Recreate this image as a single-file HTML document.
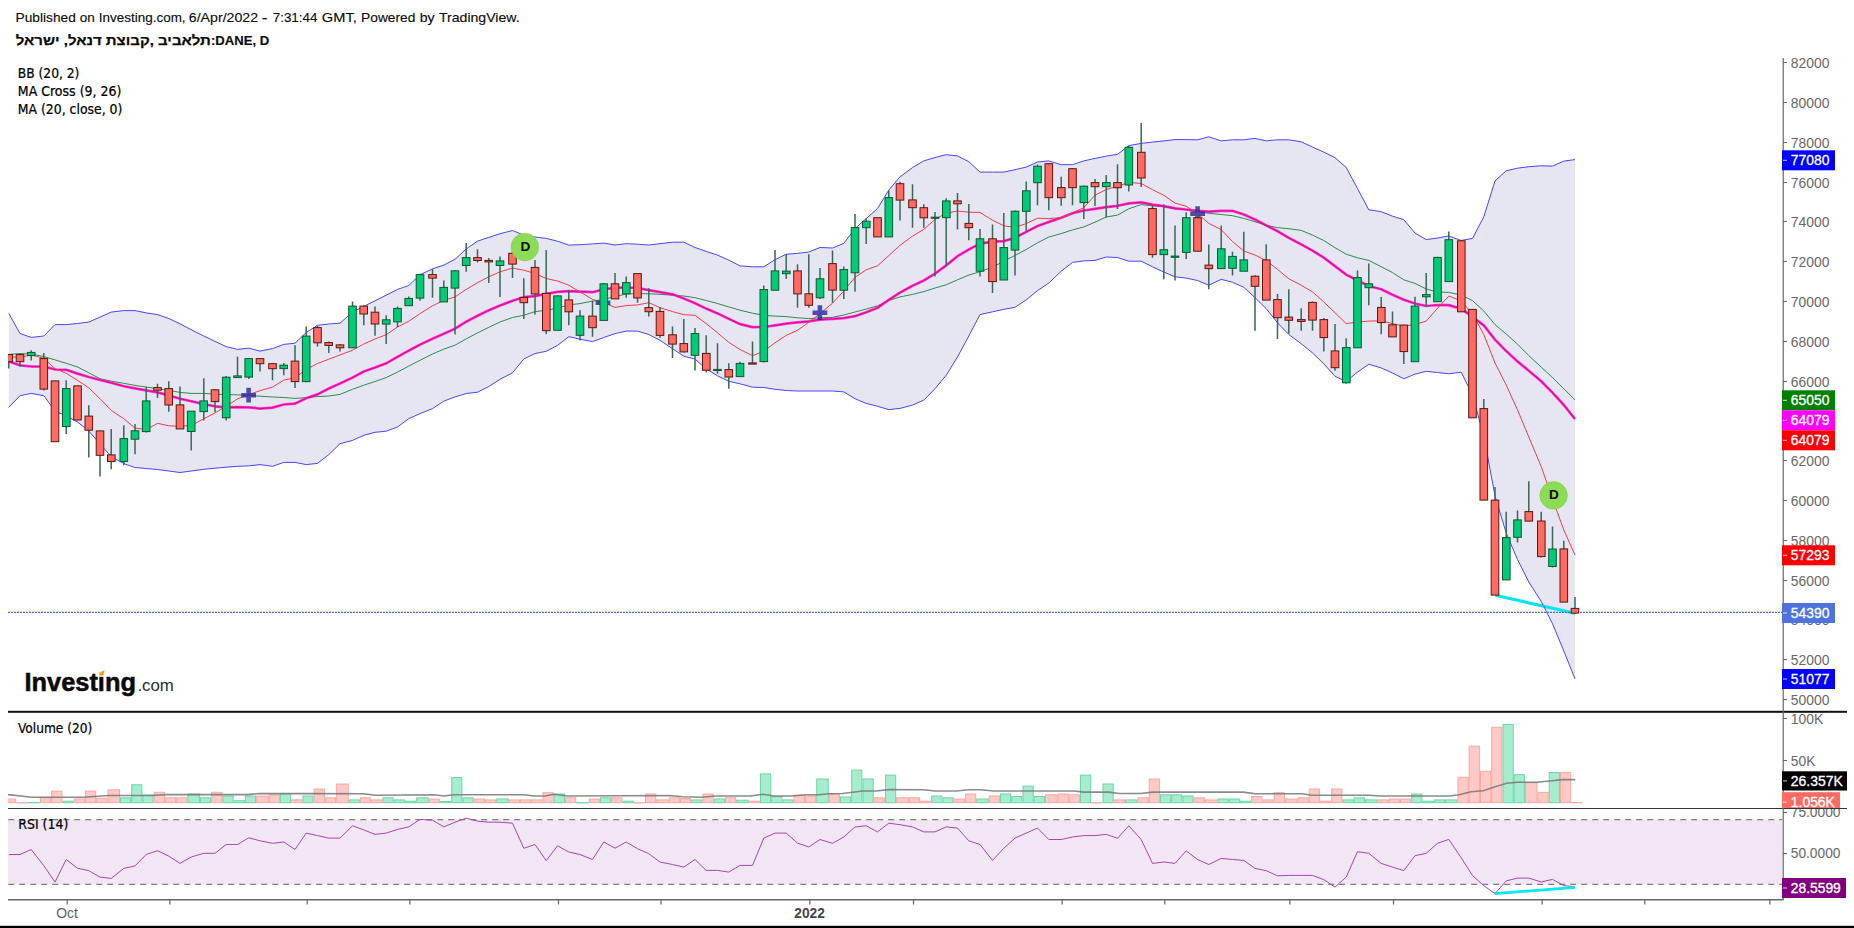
<!DOCTYPE html>
<html lang="he"><head><meta charset="utf-8"><title>DANE, D</title>
<style>html,body{margin:0;padding:0;background:#fff}body{width:1854px;height:928px;overflow:hidden}svg{display:block}</style>
</head><body>
<svg width="1854" height="928" viewBox="0 0 1854 928">
<defs><clipPath id="cm"><rect x="8" y="55" width="1775" height="656"/></clipPath><clipPath id="cv"><rect x="8" y="713" width="1775" height="95"/></clipPath><clipPath id="cr"><rect x="8" y="809" width="1775" height="90"/></clipPath><clipPath id="ca"><rect x="1783" y="809" width="71" height="91"/></clipPath></defs>
<rect width="1854" height="928" fill="#fff"/>
<g clip-path="url(#cm)">
<polygon fill="#e6e6f3" points="8.8,313.4 20,333.5 31.2,337.4 43.8,336 55,324.6 66.2,324.6 77.5,323.5 88.8,322.1 100,317.1 111.2,312.1 123.8,310.6 135,310.6 146.2,312.9 157.5,314.6 168.8,318.5 180,323.8 191.2,329.7 203.8,336 215,341.4 226.2,346.6 237.5,349.4 248.8,348.2 260,351.1 272.5,348.6 283.8,344.4 295,343.2 306.2,332.5 317.5,325.3 328.8,324 340,323.2 352.5,312 363.8,306.4 375,300.8 386.2,295.2 397.5,289.4 408.8,285.5 420,274.8 432.5,268.8 443.8,265.1 455,259.3 466.2,248.9 477.5,241.2 488.8,237.4 500,233.7 512.5,230.5 523.8,235.2 535,237 546.2,238.4 557.5,241.2 568.8,245.1 580,244.7 592.5,243.9 603.8,243.1 615,245 626.2,243.7 637.5,244.2 648.8,245 660,243.7 672.5,242.2 683.8,242.2 695,247.5 706.2,251.4 717.5,255.1 728.8,260.1 740,265.9 752.5,266.8 763.8,266.8 775,259.7 786.2,254.2 797.5,253.4 808.8,252 820,247.5 832.5,248 843.8,243.3 855,228.6 866.2,218.6 877.5,208.5 888.8,190.1 900,176.8 912.5,167.6 923.8,160.9 935,157.5 946.2,154.7 957.5,155.9 968.8,161.7 980,172.1 992.5,172.1 1003.8,172.1 1015,169.7 1026.2,167.1 1037.5,162 1048.8,160.9 1061.2,164.7 1072.5,164.7 1083.8,160.9 1095,158.4 1106.2,156.1 1117.5,154.4 1128.8,145.6 1141.2,143.4 1152.5,142.1 1163.8,140.9 1175,139.6 1186.2,139.6 1197.5,139.8 1208.8,136.8 1221.2,140.9 1232.5,139.8 1243.8,139.8 1255,138.4 1266.2,140.9 1277.5,139.8 1288.8,139.8 1301.2,141.8 1312.5,147.1 1323.8,152.1 1335,157.7 1346.2,167.4 1357.5,188.6 1368.8,209.8 1381.2,211.7 1392.5,216.2 1403.8,219.7 1415,233 1426.2,239.6 1437.5,238 1448.8,236 1461.2,240.5 1472.5,238.4 1483.8,216.8 1495,180.9 1506.2,170.8 1517.5,168.2 1528.8,166.7 1541.2,165.8 1552.5,166.1 1563.8,161.1 1575,159.6 1575,678.8 1563.8,651 1552.5,623.7 1541.2,601.4 1528.8,582 1517.5,559.5 1506.2,533 1495,496 1483.8,436 1472.5,395 1461.2,372.2 1448.8,373.8 1437.5,372.5 1426.2,371.3 1415,374.1 1403.8,378.8 1392.5,373 1381.2,367.9 1368.8,364.3 1357.5,372.1 1346.2,381.5 1335,376.3 1323.8,363.8 1312.5,352.9 1301.2,343.7 1288.8,334.5 1277.5,322.8 1266.2,308.6 1255,297.7 1243.8,287.3 1232.5,282.3 1221.2,279.3 1208.8,285.2 1197.5,280.5 1186.2,278.1 1175,276.8 1163.8,272.1 1152.5,266.8 1141.2,261.2 1128.8,261.2 1117.5,257.5 1106.2,257 1095,260.4 1083.8,260.9 1072.5,262.4 1061.2,271.2 1048.8,283.1 1037.5,290.6 1026.2,299.9 1015,307.3 1003.8,309.3 992.5,311.8 980,314.6 968.8,336 957.5,356.9 946.2,375.3 935,388.7 923.8,400.1 912.5,405.1 900,408.4 888.8,409.6 877.5,406.3 866.2,403.4 855,398.7 843.8,391.9 832.5,391 820,391 808.8,391 797.5,391 786.2,390.5 775,389.3 763.8,387.5 752.5,387.2 740,383.8 728.8,381.3 717.5,375.8 706.2,368.8 695,359.1 683.8,356.2 672.5,348.7 660,340.3 648.8,334.5 637.5,331.1 626.2,331.1 615,333.6 603.8,337.5 592.5,341.6 580,339.2 568.8,336.7 557.5,345.4 546.2,351.3 535,353.5 523.8,359 512.5,372.8 500,379.3 488.8,386.5 477.5,392.2 466.2,393.5 455,396.9 443.8,401.1 432.5,408.6 420,413.6 408.8,418.6 397.5,427 386.2,431.2 375,432.3 363.8,435.3 352.5,440.4 340,443.7 328.8,454.6 317.5,463.4 306.2,464.6 295,462.4 283.8,462.4 272.5,466.3 260,464.6 248.8,465.9 237.5,466.3 226.2,467.2 215,468.2 203.8,469.3 191.2,471 180,472.5 168.8,471 157.5,469.5 146.2,468.5 135,467.5 123.8,463.6 111.2,456.5 100,444 88.8,431 77.5,422 66.2,416 55,411 43.8,395.7 31.2,393.4 20,395.7 8.8,407.4"/>
<line x1="1495.4" y1="595.3" x2="1575" y2="613.3" stroke="#00e8f2" stroke-width="3.2"/>
<polyline fill="none" stroke="#4646ff" stroke-width="1" points="8.8,313.4 20,333.5 31.2,337.4 43.8,336 55,324.6 66.2,324.6 77.5,323.5 88.8,322.1 100,317.1 111.2,312.1 123.8,310.6 135,310.6 146.2,312.9 157.5,314.6 168.8,318.5 180,323.8 191.2,329.7 203.8,336 215,341.4 226.2,346.6 237.5,349.4 248.8,348.2 260,351.1 272.5,348.6 283.8,344.4 295,343.2 306.2,332.5 317.5,325.3 328.8,324 340,323.2 352.5,312 363.8,306.4 375,300.8 386.2,295.2 397.5,289.4 408.8,285.5 420,274.8 432.5,268.8 443.8,265.1 455,259.3 466.2,248.9 477.5,241.2 488.8,237.4 500,233.7 512.5,230.5 523.8,235.2 535,237 546.2,238.4 557.5,241.2 568.8,245.1 580,244.7 592.5,243.9 603.8,243.1 615,245 626.2,243.7 637.5,244.2 648.8,245 660,243.7 672.5,242.2 683.8,242.2 695,247.5 706.2,251.4 717.5,255.1 728.8,260.1 740,265.9 752.5,266.8 763.8,266.8 775,259.7 786.2,254.2 797.5,253.4 808.8,252 820,247.5 832.5,248 843.8,243.3 855,228.6 866.2,218.6 877.5,208.5 888.8,190.1 900,176.8 912.5,167.6 923.8,160.9 935,157.5 946.2,154.7 957.5,155.9 968.8,161.7 980,172.1 992.5,172.1 1003.8,172.1 1015,169.7 1026.2,167.1 1037.5,162 1048.8,160.9 1061.2,164.7 1072.5,164.7 1083.8,160.9 1095,158.4 1106.2,156.1 1117.5,154.4 1128.8,145.6 1141.2,143.4 1152.5,142.1 1163.8,140.9 1175,139.6 1186.2,139.6 1197.5,139.8 1208.8,136.8 1221.2,140.9 1232.5,139.8 1243.8,139.8 1255,138.4 1266.2,140.9 1277.5,139.8 1288.8,139.8 1301.2,141.8 1312.5,147.1 1323.8,152.1 1335,157.7 1346.2,167.4 1357.5,188.6 1368.8,209.8 1381.2,211.7 1392.5,216.2 1403.8,219.7 1415,233 1426.2,239.6 1437.5,238 1448.8,236 1461.2,240.5 1472.5,238.4 1483.8,216.8 1495,180.9 1506.2,170.8 1517.5,168.2 1528.8,166.7 1541.2,165.8 1552.5,166.1 1563.8,161.1 1575,159.6"/>
<polyline fill="none" stroke="#4646ff" stroke-width="1" points="8.8,407.4 20,395.7 31.2,393.4 43.8,395.7 55,411 66.2,416 77.5,422 88.8,431 100,444 111.2,456.5 123.8,463.6 135,467.5 146.2,468.5 157.5,469.5 168.8,471 180,472.5 191.2,471 203.8,469.3 215,468.2 226.2,467.2 237.5,466.3 248.8,465.9 260,464.6 272.5,466.3 283.8,462.4 295,462.4 306.2,464.6 317.5,463.4 328.8,454.6 340,443.7 352.5,440.4 363.8,435.3 375,432.3 386.2,431.2 397.5,427 408.8,418.6 420,413.6 432.5,408.6 443.8,401.1 455,396.9 466.2,393.5 477.5,392.2 488.8,386.5 500,379.3 512.5,372.8 523.8,359 535,353.5 546.2,351.3 557.5,345.4 568.8,336.7 580,339.2 592.5,341.6 603.8,337.5 615,333.6 626.2,331.1 637.5,331.1 648.8,334.5 660,340.3 672.5,348.7 683.8,356.2 695,359.1 706.2,368.8 717.5,375.8 728.8,381.3 740,383.8 752.5,387.2 763.8,387.5 775,389.3 786.2,390.5 797.5,391 808.8,391 820,391 832.5,391 843.8,391.9 855,398.7 866.2,403.4 877.5,406.3 888.8,409.6 900,408.4 912.5,405.1 923.8,400.1 935,388.7 946.2,375.3 957.5,356.9 968.8,336 980,314.6 992.5,311.8 1003.8,309.3 1015,307.3 1026.2,299.9 1037.5,290.6 1048.8,283.1 1061.2,271.2 1072.5,262.4 1083.8,260.9 1095,260.4 1106.2,257 1117.5,257.5 1128.8,261.2 1141.2,261.2 1152.5,266.8 1163.8,272.1 1175,276.8 1186.2,278.1 1197.5,280.5 1208.8,285.2 1221.2,279.3 1232.5,282.3 1243.8,287.3 1255,297.7 1266.2,308.6 1277.5,322.8 1288.8,334.5 1301.2,343.7 1312.5,352.9 1323.8,363.8 1335,376.3 1346.2,381.5 1357.5,372.1 1368.8,364.3 1381.2,367.9 1392.5,373 1403.8,378.8 1415,374.1 1426.2,371.3 1437.5,372.5 1448.8,373.8 1461.2,372.2 1472.5,395 1483.8,436 1495,496 1506.2,533 1517.5,559.5 1528.8,582 1541.2,601.4 1552.5,623.7 1563.8,651 1575,678.8"/>
<polyline fill="none" stroke="#2e8b46" stroke-width="1" points="8.8,354.4 20,353.6 31.2,353.9 43.8,356.6 55,359.9 66.2,363.3 77.5,367 88.8,372.8 100,378.7 111.2,381.2 123.8,383.3 135,385.4 146.2,387 157.5,388.7 168.8,390.4 180,392.4 191.2,393.4 203.8,393.4 215,394.2 226.2,394.5 237.5,394.9 248.8,395.3 260,396.2 272.5,397 283.8,397.5 295,398.4 306.2,397.7 317.5,396.5 328.8,396 340,394.4 352.5,389.3 363.8,385.2 375,381.5 386.2,377.6 397.5,372.1 408.8,366.1 420,360.3 432.5,354 443.8,349.1 455,345.2 466.2,338.9 477.5,332.9 488.8,327.3 500,322 512.5,317.5 523.8,315.3 535,311.6 546.2,310.3 557.5,308.1 568.8,304.9 580,303.6 592.5,301.1 603.8,299.4 615,296.5 626.2,294 637.5,293.5 648.8,293.8 660,294.3 672.5,295.2 683.8,296 695,297.7 706.2,300.5 717.5,303.5 728.8,306.9 740,310.2 752.5,313.2 763.8,315.3 775,316.1 786.2,316.6 797.5,317.8 808.8,318.6 820,317.8 832.5,317.3 843.8,315 855,312 866.2,309.1 877.5,305.8 888.8,300.5 900,296.9 912.5,294.4 923.8,291.6 935,288 946.2,284.8 957.5,279.8 968.8,275.1 980,271.7 992.5,267.1 1003.8,261.2 1015,255.4 1026.2,249.5 1037.5,242.8 1048.8,237 1061.2,233.6 1072.5,229.9 1083.8,226.9 1095,222.2 1106.2,217 1117.5,215.1 1128.8,208.8 1141.2,204.6 1152.5,205.8 1163.8,206.7 1175,208.7 1186.2,209.8 1197.5,211.7 1208.8,213.3 1221.2,214.5 1232.5,215.7 1243.8,218.4 1255,221.7 1266.2,225.4 1277.5,227.6 1288.8,228.7 1301.2,230.4 1312.5,235.1 1323.8,240.5 1335,247.7 1346.2,254.2 1357.5,257.8 1368.8,260.4 1381.2,266.7 1392.5,272.6 1403.8,279.8 1415,283.4 1426.2,289 1437.5,292 1448.8,292.4 1461.2,295 1472.5,300.6 1483.8,311 1495,324.6 1506.2,334 1517.5,344.2 1528.8,355.6 1541.2,367.1 1552.5,377.5 1563.8,388.8 1575,399.8"/>
<polyline fill="none" stroke="#f0f" stroke-width="2.7" stroke-linejoin="round" stroke-opacity=".8" points="8.8,361.4 20,365.3 31.2,366.5 43.8,366.5 55,369.5 66.2,369.8 77.5,373.6 88.8,377 100,380 111.2,382.8 123.8,386.2 135,388.4 146.2,390.4 157.5,392.4 168.8,395.4 180,398.7 191.2,401.2 203.8,404.1 215,406.3 226.2,407.4 237.5,407.2 248.8,407.4 260,408.6 272.5,407.6 283.8,404.5 295,403.6 306.2,398.2 317.5,394.4 328.8,388.5 340,383.5 352.5,377.6 363.8,371.5 375,367.6 386.2,363.3 397.5,356.9 408.8,350.6 420,344.6 432.5,338.7 443.8,333.7 455,328.7 466.2,321.7 477.5,315.8 488.8,310.3 500,305.6 512.5,300.8 523.8,297.2 535,296.1 546.2,293.9 557.5,291.9 568.8,291.1 580,291.6 592.5,292.2 603.8,289.4 615,287.7 626.2,287.7 637.5,288 648.8,290.2 660,292.2 672.5,294.3 683.8,298.5 695,303.2 706.2,308.6 717.5,313.4 728.8,318.9 740,324.1 752.5,327.1 763.8,327 775,325.3 786.2,323.6 797.5,322.3 808.8,321.4 820,319.6 832.5,318.9 843.8,318.1 855,316.2 866.2,312.3 877.5,307.8 888.8,299.8 900,292.6 912.5,285.7 923.8,280.5 935,273.7 946.2,265.4 957.5,256.2 968.8,249.5 980,243.6 992.5,241.6 1003.8,241.1 1015,237.8 1026.2,231.9 1037.5,226.1 1048.8,221.9 1061.2,217.7 1072.5,213.2 1083.8,210.5 1095,208.9 1106.2,207.1 1117.5,205.8 1128.8,203.4 1141.2,202.3 1152.5,204.6 1163.8,206.2 1175,208.3 1186.2,209.5 1197.5,210.8 1208.8,211.7 1221.2,210.8 1232.5,210.8 1243.8,214.5 1255,219.5 1266.2,225.4 1277.5,231.2 1288.8,237.9 1301.2,244.4 1312.5,250.6 1323.8,257.7 1335,266.2 1346.2,274.6 1357.5,280.5 1368.8,286 1381.2,289.2 1392.5,294.7 1403.8,299.7 1415,303.5 1426.2,306 1437.5,305 1448.8,305.1 1461.2,308.8 1472.5,316.7 1483.8,325.4 1495,339.6 1506.2,351.1 1517.5,361.4 1528.8,370.8 1541.2,381.2 1552.5,392.6 1563.8,405 1575,419"/>
<polyline fill="none" stroke="#e6106e" stroke-width="1.25" stroke-linejoin="round" points="8.8,361.4 20,365.3 31.2,366.5 43.8,366.5 55,369.5 66.2,369.8 77.5,373.6 88.8,377 100,380 111.2,382.8 123.8,386.2 135,388.4 146.2,390.4 157.5,392.4 168.8,395.4 180,398.7 191.2,401.2 203.8,404.1 215,406.3 226.2,407.4 237.5,407.2 248.8,407.4 260,408.6 272.5,407.6 283.8,404.5 295,403.6 306.2,398.2 317.5,394.4 328.8,388.5 340,383.5 352.5,377.6 363.8,371.5 375,367.6 386.2,363.3 397.5,356.9 408.8,350.6 420,344.6 432.5,338.7 443.8,333.7 455,328.7 466.2,321.7 477.5,315.8 488.8,310.3 500,305.6 512.5,300.8 523.8,297.2 535,296.1 546.2,293.9 557.5,291.9 568.8,291.1 580,291.6 592.5,292.2 603.8,289.4 615,287.7 626.2,287.7 637.5,288 648.8,290.2 660,292.2 672.5,294.3 683.8,298.5 695,303.2 706.2,308.6 717.5,313.4 728.8,318.9 740,324.1 752.5,327.1 763.8,327 775,325.3 786.2,323.6 797.5,322.3 808.8,321.4 820,319.6 832.5,318.9 843.8,318.1 855,316.2 866.2,312.3 877.5,307.8 888.8,299.8 900,292.6 912.5,285.7 923.8,280.5 935,273.7 946.2,265.4 957.5,256.2 968.8,249.5 980,243.6 992.5,241.6 1003.8,241.1 1015,237.8 1026.2,231.9 1037.5,226.1 1048.8,221.9 1061.2,217.7 1072.5,213.2 1083.8,210.5 1095,208.9 1106.2,207.1 1117.5,205.8 1128.8,203.4 1141.2,202.3 1152.5,204.6 1163.8,206.2 1175,208.3 1186.2,209.5 1197.5,210.8 1208.8,211.7 1221.2,210.8 1232.5,210.8 1243.8,214.5 1255,219.5 1266.2,225.4 1277.5,231.2 1288.8,237.9 1301.2,244.4 1312.5,250.6 1323.8,257.7 1335,266.2 1346.2,274.6 1357.5,280.5 1368.8,286 1381.2,289.2 1392.5,294.7 1403.8,299.7 1415,303.5 1426.2,306 1437.5,305 1448.8,305.1 1461.2,308.8 1472.5,316.7 1483.8,325.4 1495,339.6 1506.2,351.1 1517.5,361.4 1528.8,370.8 1541.2,381.2 1552.5,392.6 1563.8,405 1575,419"/>
<polyline fill="none" stroke="#ee3c48" stroke-width="1" points="8.8,356.9 20,357.3 31.2,354.9 43.8,358.3 55,368.6 66.2,373.3 77.5,380.3 88.8,387.9 100,398.7 111.2,410.4 123.8,418.8 135,428 146.2,429.7 157.5,423.3 168.8,425.8 180,426.3 191.2,425.5 203.8,418.8 215,412.9 226.2,406.3 237.5,398.9 248.8,394.5 260,390.7 272.5,387.1 283.8,380.1 295,377.7 306.2,369.5 317.5,363.5 328.8,359.2 340,355 352.5,350.2 363.8,344 375,339 386.2,334.7 397.5,327 408.8,321.2 420,313.6 432.5,305.8 443.8,300.3 455,296.9 466.2,289.4 477.5,282.7 488.8,276.8 500,271.8 512.5,268.1 523.8,270.2 535,273.5 546.2,278.5 557.5,281 568.8,285.2 580,291.9 592.5,299.4 603.8,302.8 615,307.4 626.2,305.6 637.5,304.9 648.8,302.7 660,307.7 672.5,311.6 683.8,314.7 695,315.3 706.2,323.6 717.5,332.8 728.8,342.3 740,349.5 752.5,355.7 763.8,351.2 775,342.8 786.2,335.3 797.5,330.3 808.8,322.3 820,313.6 832.5,303.2 843.8,291 855,277.3 866.2,269.8 877.5,265.8 888.8,255.6 900,245.3 912.5,236.1 923.8,229.4 935,219.4 946.2,213.2 957.5,211 968.8,212.2 980,212.4 992.5,220.2 1003.8,225.8 1015,227.3 1026.2,223.6 1037.5,218.2 1048.8,218.6 1061.2,217.7 1072.5,212.7 1083.8,207.7 1095,195.2 1106.2,189.6 1117.5,186.3 1128.8,182.4 1141.2,183.5 1152.5,189.7 1163.8,195.3 1175,203.1 1186.2,206.2 1197.5,213.7 1208.8,223.4 1221.2,229.6 1232.5,241.5 1243.8,251 1255,255 1266.2,260.7 1277.5,269.3 1288.8,278.8 1301.2,285.2 1312.5,291.9 1323.8,301.9 1335,312.8 1346.2,323.6 1357.5,322 1368.8,321.1 1381.2,320.8 1392.5,323.6 1403.8,326.1 1415,324.5 1426.2,321.1 1437.5,308.3 1448.8,296 1461.2,301 1472.5,314 1483.8,334.5 1495,363 1506.2,385 1517.5,409.9 1528.8,437 1541.2,466.5 1552.5,499 1563.8,530 1575,555"/>
<path d="M241.2 395.2h14.8M248.6 387.8v14.8" stroke="#26269a" stroke-opacity=".8" stroke-width="4.6" fill="none"/>
<path d="M595.6 302.8h14.8M603 295.4v14.8" stroke="#26269a" stroke-opacity=".8" stroke-width="4.6" fill="none"/>
<path d="M812.5 312.7h14.8M819.9 305.3v14.8" stroke="#26269a" stroke-opacity=".8" stroke-width="4.6" fill="none"/>
<path d="M1190.2 213.7h14.8M1197.6 206.3v14.8" stroke="#26269a" stroke-opacity=".8" stroke-width="4.6" fill="none"/>
<line x1="8" y1="612.4" x2="1783" y2="612.4" stroke="#4264e6" stroke-width="1.2" stroke-dasharray="1.9 1.1"/>
<path d="M8.8 354.4V368.6M20 353.6V366.6M31.2 350.2V360.6M43.8 353.1V390.4M55 380.7V441.4M66.2 380.2V434M77.5 385.6V419.6M88.8 405.3V457.6M100 430.6V476.5M111.2 429V469.3M123.8 425.2V465.2M135 424V454.2M146.2 387V432.5M157.5 383.7V397.9M168.8 381.2V411.8M180 386.4V428.5M191.2 411V450.6M203.8 378.2V420.5M215 389.5V412.1M226.2 376V420.5M237.5 356.6V377.3M248.8 358.3V379M260 358.3V371.6M272.5 363.3V380.3M283.8 363.1V375.3M295 345.2V387.9M306.2 326.6V382.3M317.5 325.7V346.6M328.8 341.6V352.9M340 344V351.6M352.5 301.6V347.9M363.8 305.3V325.3M375 306.6V335.7M386.2 315.3V344.1M397.5 306.4V327.3M408.8 296.6V305.8M420 273.8V300.8M432.5 269.3V297.7M443.8 280.5V301.9M455 270.2V334.5M466.2 242.9V271.8M477.5 249.2V262.6M488.8 257.9V283M500 256.4V296.9M512.5 250V278M523.8 278.2V319.1M535 260.1V314.5M546.2 250.1V334M557.5 295.2V330M568.8 290.6V325.3M580 310.3V340.4M592.5 300.8V336.7M603.8 283V320.3M615 273.1V298.5M626.2 276.5V297.7M637.5 273.4V302.7M648.8 288.2V316.6M660 306.9V337.8M672.5 326.6V357.9M683.8 319.1V352.4M695 328.1V370.4M706.2 335.3V372.6M717.5 343.2V373.8M728.8 363.2V388.8M740 361.7V376.3M752.5 341.5V363.7M763.8 285.5V362.6M775 250V289.8M786.2 254.2V279M797.5 264.2V307.7M808.8 254.2V307.7M820 268.1V299M832.5 250.4V302.7M843.8 266.4V299M855 214V291.8M866.2 218.2V244.1M877.5 217.4V236.5M888.8 190.5V236.5M900 181.8V220.6M912.5 184.3V227.8M923.8 204.3V227.8M935 211.9V276.6M946.2 198.2V265.4M957.5 193.1V229.4M968.8 204V240.3M980 229.1V276.6M992.5 224.4V293M1003.8 213V279.6M1015 210.5V275.4M1026.2 181.4V230.8M1037.5 164.5V205.2M1048.8 163V210.2M1061.2 176.8V205.7M1072.5 168V205.2M1083.8 185.5V219.1M1095 178.9V205.7M1106.2 175.1V217.4M1117.5 164.2V209M1128.8 146V191.6M1141.2 123V186.9M1152.5 205.3V257.7M1163.8 204.5V279.3M1175 225.4V280.5M1186.2 212.3V258.9M1197.5 210.3V251.3M1208.8 244.4V289.3M1221.2 225.4V268.4M1232.5 251.8V275.6M1243.8 231.7V271M1255 275.2V330.7M1266.2 244.2V299.7M1277.5 294V339M1288.8 289.3V333.7M1301.2 308.2V330.7M1312.5 301.5V330.7M1323.8 318.1V351.6M1335 324.1V370.8M1346.2 338.3V383.8M1357.5 270.6V347.4M1368.8 263.4V305.2M1381.2 296.9V334.2M1392.5 311.6V336.5M1403.8 324.8V364.1M1415 296.8V361.3M1426.2 273.1V306.7M1437.5 256.7V301.3M1448.8 231.4V281.2M1461.2 240.5V311.4M1472.5 309.2V417.5M1483.8 399.1V499.8M1495 486.9V594.7M1506.2 511.7V579.6M1517.5 510.4V542.4M1528.8 481.3V520.8M1541.2 511.7V557.5M1552.5 526.5V567.4M1563.8 540.7V601.7M1575 597V613.8" stroke="#386853" stroke-width="1.5" fill="none"/>
<g fill="#00cc78" stroke="#0f5831" stroke-width="1"><rect x="27.4" y="352.4" width="7.6" height="3.2"/><rect x="62.5" y="388.6" width="7.6" height="38"/><rect x="120" y="438.6" width="7.6" height="22.9"/><rect x="131.2" y="430.8" width="7.6" height="8.4"/><rect x="142.4" y="400.9" width="7.6" height="30.7"/><rect x="187.4" y="411.2" width="7.6" height="20.3"/><rect x="199.9" y="400.9" width="7.6" height="10.7"/><rect x="222.4" y="377.2" width="7.6" height="40.6"/><rect x="233.7" y="375.9" width="7.6" height="1.7"/><rect x="244.9" y="358.6" width="7.6" height="18.5"/><rect x="279.9" y="365.2" width="7.6" height="3.4"/><rect x="302.4" y="336.1" width="7.6" height="45.5"/><rect x="348.7" y="306.1" width="7.6" height="41.7"/><rect x="382.4" y="319.8" width="7.6" height="4.3"/><rect x="393.7" y="308.4" width="7.6" height="13.5"/><rect x="404.9" y="298.4" width="7.6" height="7.3"/><rect x="416.2" y="274.6" width="7.6" height="23.5"/><rect x="439.9" y="287.4" width="7.6" height="14.5"/><rect x="451.2" y="270.8" width="7.6" height="17.3"/><rect x="462.4" y="257.6" width="7.6" height="7.9"/><rect x="496.2" y="260.9" width="7.6" height="4.6"/><rect x="553.7" y="295.9" width="7.6" height="34.4"/><rect x="576.2" y="316.1" width="7.6" height="19.2"/><rect x="600" y="283.8" width="7.6" height="36.6"/><rect x="622.5" y="282.6" width="7.6" height="11.3"/><rect x="691.2" y="333.6" width="7.6" height="21.7"/><rect x="713.7" y="369.4" width="7.6" height="1.1"/><rect x="736.2" y="363.4" width="7.6" height="13.2"/><rect x="760" y="289.6" width="7.6" height="72"/><rect x="771.2" y="270.9" width="7.6" height="19.3"/><rect x="782.5" y="271.1" width="7.6" height="2.6"/><rect x="816.2" y="278.8" width="7.6" height="19"/><rect x="840" y="269.6" width="7.6" height="20.6"/><rect x="851.2" y="227.6" width="7.6" height="45.2"/><rect x="862.5" y="221.3" width="7.6" height="6.4"/><rect x="885" y="197.6" width="7.6" height="39.3"/><rect x="931.2" y="217.2" width="7.6" height="1.1"/><rect x="942.5" y="200.9" width="7.6" height="16.8"/><rect x="976.2" y="238.8" width="7.6" height="32.4"/><rect x="1000" y="247.6" width="7.6" height="32.4"/><rect x="1011.2" y="211.2" width="7.6" height="38.9"/><rect x="1022.5" y="190.8" width="7.6" height="20.5"/><rect x="1033.7" y="166.2" width="7.6" height="16.5"/><rect x="1080" y="186.2" width="7.6" height="16.4"/><rect x="1102.5" y="182.6" width="7.6" height="4.1"/><rect x="1125" y="147.3" width="7.6" height="37.7"/><rect x="1160" y="249.7" width="7.6" height="4.9"/><rect x="1171.2" y="256.1" width="7.6" height="1.2"/><rect x="1182.5" y="217.7" width="7.6" height="34.7"/><rect x="1217.5" y="248.8" width="7.6" height="19.8"/><rect x="1228.7" y="256.4" width="7.6" height="11.9"/><rect x="1240" y="259.9" width="7.6" height="11.3"/><rect x="1342.5" y="347.6" width="7.6" height="35.2"/><rect x="1353.7" y="277.6" width="7.6" height="70.2"/><rect x="1365" y="283.8" width="7.6" height="3.9"/><rect x="1411.2" y="306.1" width="7.6" height="55.6"/><rect x="1422.5" y="294.6" width="7.6" height="2.2"/><rect x="1433.7" y="257.4" width="7.6" height="44.3"/><rect x="1445" y="239.7" width="7.6" height="41.9"/><rect x="1502.5" y="537.6" width="7.6" height="42.3"/><rect x="1513.7" y="519.9" width="7.6" height="17.4"/><rect x="1548.7" y="549" width="7.6" height="17.5"/></g>
<g fill="#ff6b63" stroke="#5a1711" stroke-width="1"><rect x="5" y="354.6" width="7.6" height="7.1"/><rect x="16.2" y="354.6" width="7.6" height="7.1"/><rect x="40" y="358.6" width="7.6" height="30.5"/><rect x="51.2" y="380.9" width="7.6" height="60.8"/><rect x="73.7" y="385.9" width="7.6" height="34.1"/><rect x="85" y="416.1" width="7.6" height="14.1"/><rect x="96.2" y="430.9" width="7.6" height="24.4"/><rect x="107.5" y="454.9" width="7.6" height="6.6"/><rect x="153.7" y="387.6" width="7.6" height="2.6"/><rect x="164.9" y="388.6" width="7.6" height="16.4"/><rect x="176.2" y="404.9" width="7.6" height="24"/><rect x="211.2" y="389.8" width="7.6" height="11.8"/><rect x="256.2" y="358.6" width="7.6" height="5.1"/><rect x="268.7" y="363.6" width="7.6" height="5.1"/><rect x="291.2" y="361.1" width="7.6" height="20.5"/><rect x="313.7" y="327.6" width="7.6" height="15.2"/><rect x="324.9" y="342.6" width="7.6" height="2.8"/><rect x="336.2" y="344.9" width="7.6" height="2.9"/><rect x="359.9" y="306.1" width="7.6" height="7.9"/><rect x="371.2" y="312.2" width="7.6" height="11.8"/><rect x="428.7" y="274.6" width="7.6" height="3.5"/><rect x="473.7" y="257.6" width="7.6" height="2.9"/><rect x="484.9" y="260.4" width="7.6" height="1.5"/><rect x="508.7" y="253.3" width="7.6" height="10.8"/><rect x="520" y="297.4" width="7.6" height="5.3"/><rect x="531.2" y="267.4" width="7.6" height="26.6"/><rect x="542.5" y="293.4" width="7.6" height="37.3"/><rect x="565" y="299.9" width="7.6" height="11.9"/><rect x="588.7" y="316.1" width="7.6" height="11.6"/><rect x="611.2" y="283.8" width="7.6" height="15.1"/><rect x="633.7" y="273.6" width="7.6" height="24.4"/><rect x="645" y="307.6" width="7.6" height="4.1"/><rect x="656.2" y="311.4" width="7.6" height="24"/><rect x="668.7" y="334.8" width="7.6" height="9.3"/><rect x="680" y="343.6" width="7.6" height="8.3"/><rect x="702.5" y="353.4" width="7.6" height="16.8"/><rect x="725" y="369.6" width="7.6" height="7.4"/><rect x="748.7" y="362.9" width="7.6" height="1.2"/><rect x="793.7" y="270.9" width="7.6" height="23"/><rect x="805" y="293.8" width="7.6" height="11.5"/><rect x="828.7" y="263.6" width="7.6" height="26.5"/><rect x="873.7" y="217.7" width="7.6" height="19.2"/><rect x="896.2" y="183.7" width="7.6" height="16.4"/><rect x="908.7" y="199.9" width="7.6" height="7.8"/><rect x="920" y="207.7" width="7.6" height="10.1"/><rect x="953.7" y="200.9" width="7.6" height="2.9"/><rect x="965" y="223.4" width="7.6" height="4.3"/><rect x="988.7" y="238.8" width="7.6" height="42.8"/><rect x="1045" y="163.7" width="7.6" height="34"/><rect x="1057.5" y="187.6" width="7.6" height="10.1"/><rect x="1068.7" y="168.7" width="7.6" height="19"/><rect x="1091.2" y="182.6" width="7.6" height="4.1"/><rect x="1113.7" y="182.6" width="7.6" height="5.1"/><rect x="1137.5" y="152.3" width="7.6" height="25.7"/><rect x="1148.7" y="208.6" width="7.6" height="46"/><rect x="1193.7" y="217.7" width="7.6" height="33.5"/><rect x="1205" y="265.1" width="7.6" height="3.6"/><rect x="1251.2" y="276.2" width="7.6" height="10.1"/><rect x="1262.5" y="259.9" width="7.6" height="40.2"/><rect x="1273.7" y="299.6" width="7.6" height="18.1"/><rect x="1285" y="317.1" width="7.6" height="3.2"/><rect x="1297.5" y="319.6" width="7.6" height="1.8"/><rect x="1308.7" y="302.4" width="7.6" height="17.7"/><rect x="1320" y="319.6" width="7.6" height="18"/><rect x="1331.2" y="350.9" width="7.6" height="16.8"/><rect x="1377.5" y="307.4" width="7.6" height="15.2"/><rect x="1388.7" y="324.8" width="7.6" height="12.1"/><rect x="1400" y="325.1" width="7.6" height="26.5"/><rect x="1457.5" y="240.8" width="7.6" height="71"/><rect x="1468.7" y="309.4" width="7.6" height="108.4"/><rect x="1480" y="408.6" width="7.6" height="91.5"/><rect x="1491.2" y="500.1" width="7.6" height="95"/><rect x="1525" y="511.6" width="7.6" height="9.5"/><rect x="1537.5" y="521" width="7.6" height="35.6"/><rect x="1560" y="548.9" width="7.6" height="53.2"/><rect x="1571.2" y="608.4" width="7.6" height="4.7"/></g>
<circle cx="524.9" cy="247.1" r="13.8" fill="#8cdc55" stroke="#80d04c" stroke-width=".6"/>
<text x="525.3" y="250.9" font-family="Liberation Sans,Arial,sans-serif" font-weight="bold" font-size="13.6" text-anchor="middle" fill="#0c0c0c">D</text>
<circle cx="1553.6" cy="495.4" r="13.8" fill="#8cdc55" stroke="#80d04c" stroke-width=".6"/>
<text x="1554" y="499.2" font-family="Liberation Sans,Arial,sans-serif" font-weight="bold" font-size="13.6" text-anchor="middle" fill="#0c0c0c">D</text>
</g>
<g clip-path="url(#cv)">
<g fill="#a6ecce" stroke="#6fd6a8" stroke-width="1"><rect x="27.9" y="802.5" width="11.5" height="0.3"/><rect x="63" y="801.2" width="10.2" height="1.5"/><rect x="120.5" y="797.8" width="10.2" height="4.9"/><rect x="131.7" y="784.8" width="10.2" height="17.9"/><rect x="142.9" y="795.1" width="10.2" height="7.6"/><rect x="187.9" y="794" width="11.5" height="8.7"/><rect x="200.4" y="797.8" width="10.2" height="4.9"/><rect x="222.9" y="796" width="10.2" height="6.7"/><rect x="234.2" y="800.7" width="10.2" height="2"/><rect x="245.4" y="796" width="10.2" height="6.7"/><rect x="280.4" y="793.6" width="10.2" height="9.1"/><rect x="302.9" y="796" width="10.2" height="6.7"/><rect x="349.2" y="799.9" width="10.2" height="2.8"/><rect x="382.9" y="797.8" width="10.2" height="4.9"/><rect x="394.2" y="799.9" width="10.2" height="2.8"/><rect x="405.4" y="801.2" width="10.2" height="1.5"/><rect x="416.7" y="797.8" width="11.5" height="4.9"/><rect x="440.4" y="801.5" width="10.2" height="1.2"/><rect x="451.7" y="777.6" width="10.2" height="25.1"/><rect x="462.9" y="797.8" width="10.2" height="4.9"/><rect x="496.7" y="799" width="11.5" height="3.7"/><rect x="554.2" y="794" width="10.2" height="8.7"/><rect x="576.7" y="802.7" width="11.5" height="0.3"/><rect x="600.5" y="797.8" width="10.2" height="4.9"/><rect x="623" y="801.2" width="10.2" height="1.5"/><rect x="691.7" y="799.9" width="10.2" height="2.8"/><rect x="714.2" y="799" width="10.2" height="3.7"/><rect x="736.7" y="800.2" width="11.5" height="2.5"/><rect x="760.5" y="773.9" width="10.2" height="28.8"/><rect x="771.7" y="796.5" width="10.2" height="6.2"/><rect x="783" y="799.9" width="10.2" height="2.8"/><rect x="816.7" y="779" width="11.5" height="23.7"/><rect x="840.5" y="797" width="10.2" height="5.7"/><rect x="851.7" y="770.1" width="10.2" height="32.6"/><rect x="863" y="779" width="10.2" height="23.7"/><rect x="885.5" y="775.1" width="10.2" height="27.6"/><rect x="931.7" y="796" width="10.2" height="6.7"/><rect x="943" y="797.8" width="10.2" height="4.9"/><rect x="976.7" y="799" width="11.5" height="3.7"/><rect x="1000.5" y="794" width="10.2" height="8.7"/><rect x="1011.7" y="796.5" width="10.2" height="6.2"/><rect x="1023" y="786.1" width="10.2" height="16.6"/><rect x="1034.2" y="796.5" width="10.2" height="6.2"/><rect x="1080.5" y="775.1" width="10.2" height="27.6"/><rect x="1103" y="784" width="10.2" height="18.7"/><rect x="1125.5" y="799.9" width="11.5" height="2.8"/><rect x="1160.5" y="794.8" width="10.2" height="7.9"/><rect x="1171.7" y="794.8" width="10.2" height="7.9"/><rect x="1183" y="796" width="10.2" height="6.7"/><rect x="1218" y="799" width="10.2" height="3.7"/><rect x="1229.2" y="799" width="10.2" height="3.7"/><rect x="1240.5" y="801.2" width="10.2" height="1.5"/><rect x="1343" y="799.9" width="10.2" height="2.8"/><rect x="1354.2" y="797.8" width="10.2" height="4.9"/><rect x="1365.5" y="799.9" width="11.5" height="2.8"/><rect x="1411.7" y="794" width="10.2" height="8.7"/><rect x="1423" y="801.2" width="10.2" height="1.5"/><rect x="1434.2" y="799.9" width="10.2" height="2.8"/><rect x="1445.5" y="799.9" width="11.5" height="2.8"/><rect x="1503" y="724.5" width="10.2" height="78.2"/><rect x="1514.2" y="774.7" width="10.2" height="28"/><rect x="1549.2" y="772.6" width="10.2" height="30.1"/></g>
<g fill="#ffc9c5" stroke="#f9a9a3" stroke-width="1"><rect x="5.5" y="799" width="10.2" height="3.7"/><rect x="16.7" y="802.7" width="10.2" height="0.3"/><rect x="40.5" y="797.8" width="10.2" height="4.9"/><rect x="51.7" y="791.1" width="10.2" height="11.6"/><rect x="74.2" y="799" width="10.2" height="3.7"/><rect x="85.5" y="791.1" width="10.2" height="11.6"/><rect x="96.7" y="798.2" width="10.2" height="4.5"/><rect x="108" y="789.8" width="11.5" height="12.9"/><rect x="154.2" y="792.3" width="10.2" height="10.4"/><rect x="165.4" y="797.8" width="10.2" height="4.9"/><rect x="176.7" y="797.8" width="10.2" height="4.9"/><rect x="211.7" y="792.3" width="10.2" height="10.4"/><rect x="256.7" y="796" width="11.5" height="6.7"/><rect x="269.2" y="794.8" width="10.2" height="7.9"/><rect x="291.7" y="799.8" width="10.2" height="2.9"/><rect x="314.2" y="789" width="10.2" height="13.7"/><rect x="325.4" y="797.8" width="10.2" height="4.9"/><rect x="336.7" y="784" width="11.5" height="18.7"/><rect x="360.4" y="797.8" width="10.2" height="4.9"/><rect x="371.7" y="799.9" width="10.2" height="2.8"/><rect x="429.2" y="799" width="10.2" height="3.7"/><rect x="474.2" y="799" width="10.2" height="3.7"/><rect x="485.4" y="799.9" width="10.2" height="2.8"/><rect x="509.2" y="799.9" width="10.3" height="2.8"/><rect x="520.5" y="799.9" width="10.2" height="2.8"/><rect x="531.7" y="799.9" width="10.2" height="2.8"/><rect x="543" y="792.7" width="10.2" height="10"/><rect x="565.5" y="797.8" width="10.2" height="4.9"/><rect x="589.2" y="799" width="10.2" height="3.7"/><rect x="611.7" y="797.8" width="10.2" height="4.9"/><rect x="634.2" y="802.7" width="10.2" height="0.3"/><rect x="645.5" y="794" width="10.2" height="8.7"/><rect x="656.7" y="799.9" width="11.5" height="2.8"/><rect x="669.2" y="797.8" width="10.2" height="4.9"/><rect x="680.5" y="798.5" width="10.2" height="4.2"/><rect x="703" y="794" width="10.2" height="8.7"/><rect x="725.5" y="797.8" width="10.2" height="4.9"/><rect x="749.2" y="801.2" width="10.2" height="1.5"/><rect x="794.2" y="795.2" width="10.2" height="7.5"/><rect x="805.5" y="796" width="10.2" height="6.7"/><rect x="829.2" y="794.3" width="10.2" height="8.4"/><rect x="874.2" y="797.8" width="10.2" height="4.9"/><rect x="896.7" y="797.8" width="11.5" height="4.9"/><rect x="909.2" y="797.8" width="10.2" height="4.9"/><rect x="920.5" y="801.2" width="10.2" height="1.5"/><rect x="954.2" y="799" width="10.2" height="3.7"/><rect x="965.5" y="794" width="10.2" height="8.7"/><rect x="989.2" y="796" width="10.2" height="6.7"/><rect x="1045.5" y="794.8" width="11.5" height="7.9"/><rect x="1058" y="794" width="10.2" height="8.7"/><rect x="1069.2" y="794.8" width="10.2" height="7.9"/><rect x="1091.7" y="802.7" width="10.2" height="0.3"/><rect x="1114.2" y="799.9" width="10.2" height="2.8"/><rect x="1138" y="797.8" width="10.2" height="4.9"/><rect x="1149.2" y="779" width="10.2" height="23.7"/><rect x="1194.2" y="797.8" width="10.2" height="4.9"/><rect x="1205.5" y="799.9" width="11.5" height="2.8"/><rect x="1251.7" y="796.5" width="10.2" height="6.2"/><rect x="1263" y="799.9" width="10.2" height="2.8"/><rect x="1274.2" y="792.7" width="10.2" height="10"/><rect x="1285.5" y="799" width="11.5" height="3.7"/><rect x="1298" y="797.8" width="10.2" height="4.9"/><rect x="1309.2" y="789" width="10.2" height="13.7"/><rect x="1320.5" y="801.2" width="10.2" height="1.5"/><rect x="1331.7" y="789" width="10.2" height="13.7"/><rect x="1378" y="799.9" width="10.2" height="2.8"/><rect x="1389.2" y="799" width="10.2" height="3.7"/><rect x="1400.5" y="799" width="10.2" height="3.7"/><rect x="1458" y="777.3" width="10.2" height="25.4"/><rect x="1469.2" y="746.1" width="10.2" height="56.6"/><rect x="1480.5" y="771.3" width="10.2" height="31.4"/><rect x="1491.7" y="727.3" width="10.2" height="75.4"/><rect x="1525.5" y="782.7" width="11.5" height="20"/><rect x="1538" y="792.4" width="10.2" height="10.3"/><rect x="1560.5" y="772.6" width="10.2" height="30.1"/><rect x="1571.7" y="802.5" width="10.2" height="0.3"/></g>
<polyline fill="none" stroke="#777" stroke-opacity=".85" stroke-width="1.6" points="8,794.6 31.8,797.3 83.6,797.3 108.7,795.5 150.5,795.5 167.2,794.6 247.5,794.6 259.2,793.5 310,793.6 363.5,793.8 375.3,795.2 433.8,794.8 443.8,796 453.8,794.8 524,794.8 534,796 545,796 554,794.3 567.6,796 670,795.5 682,796.8 702,797.3 715.4,796 750.5,796 763,794.3 774,796 792,796 805.7,794.8 819,794.8 829,793.8 842.5,793.5 862.6,791 876,791 889.3,789.6 923.4,789.8 935,791 957,791 968.6,789.8 980.3,789.8 993.7,791 1074,791 1084,792.1 1109,792.1 1119,793.5 1140.8,793.5 1152.5,792.1 1243.5,792.1 1255.2,793.8 1302,793.8 1312,795.2 1369,795.2 1380.6,796 1449.2,796 1459.2,794.8 1471,791.8 1483.1,790.7 1496,786.5 1506.8,783.3 1517.6,782.2 1537,782.2 1552,780.7 1562.8,779.6 1575.3,779.6"/>
</g>
<rect x="8" y="819.5" width="1774" height="65" fill="#f1e6f4"/>
<path d="M8.2 819.6H1782M8.2 884.4H1782" stroke="#857c84" stroke-width="1.2" stroke-dasharray="6 5" fill="none"/>
<g clip-path="url(#cr)">
<polyline fill="none" stroke="#a645b3" stroke-width="1" points="8.8,854.5 20,854.5 31.2,849.5 43.8,865.7 55,882.1 66.2,859.5 77.5,868.2 88.8,870.7 100,877.1 111.2,878.4 123.8,868.4 135,865.9 146.2,854.5 157.5,850.7 168.8,856.2 180,863.4 191.2,857 203.8,853.3 215,853.3 226.2,844.5 237.5,844.5 248.8,837.8 260,840.8 272.5,843.3 283.8,842 295,849.5 306.2,833.1 317.5,835.6 328.8,838.1 340,838.1 352.5,825.8 363.8,829.9 375,834.4 386.2,833.1 397.5,829.4 408.8,826.9 420,819.4 432.5,820.2 443.8,826.9 455,822.2 466.2,818.2 477.5,821.1 488.8,822.2 500,822.2 512.5,823.2 523.8,848.3 535,844.5 546.2,860.7 557.5,845.8 568.8,852 580,854.5 592.5,859.5 603.8,842 615,848.2 626.2,842 637.5,848.7 648.8,853.7 660,862 672.5,864.5 683.8,867.1 695,859.5 706.2,870.4 717.5,870.4 728.8,872.1 740,865.4 752.5,865.4 763.8,838.1 775,833.1 786.2,833.1 797.5,843.1 808.8,847 820,839.5 832.5,843.3 843.8,837 855,826.9 866.2,825.8 877.5,831.9 888.8,823.2 900,824.7 912.5,826.9 923.8,831.9 935,831.9 946.2,826.9 957.5,828.1 968.8,840.8 980,844.5 992.5,860.4 1003.8,848.3 1015,838.1 1026.2,833.1 1037.5,828.1 1048.8,839.5 1061.2,839.5 1072.5,837 1083.8,835.6 1095,835.6 1106.2,834.4 1117.5,838.3 1128.8,825.8 1141.2,839.5 1152.5,863.4 1163.8,862 1175,863.4 1186.2,850.8 1197.5,859.5 1208.8,864.5 1221.2,858.4 1232.5,859.5 1243.8,860.4 1255,868.4 1266.2,870.7 1277.5,875.8 1288.8,875.4 1301.2,875.4 1312.5,875.4 1323.8,879.6 1335,887.1 1346.2,877.1 1357.5,851.7 1368.8,853.3 1381.2,863.4 1392.5,867.1 1403.8,870.7 1415,855.7 1426.2,853.3 1437.5,843.3 1448.8,839.4 1461.2,857.8 1472.5,875.5 1483.8,885.7 1495,893.6 1506.2,880.9 1517.5,878.1 1528.8,878.1 1541.2,882 1552.5,879.4 1563.8,885.6 1575,886.7"/>
<line x1="1494.8" y1="893.6" x2="1575" y2="887.3" stroke="#00e8f2" stroke-width="2.8"/>
</g>
<rect x="8" y="710.8" width="1839" height="2" fill="#111"/>
<rect x="8" y="808" width="1839" height="1" fill="#333"/>
<rect x="0" y="925.8" width="1854" height="2.2" fill="#000"/>
<rect x="1782.6" y="58" width="1.2" height="842" fill="#666"/>
<rect x="8" y="899" width="1775.5" height="1.5" fill="#6a6a6a"/>
<text x="1790.8" y="705.1" textLength="38.6" font-family="Liberation Sans,Arial,sans-serif" font-size="13.8" fill="#686868" lengthAdjust="spacingAndGlyphs">50000</text>
<text x="1790.8" y="665.1" textLength="38.6" font-family="Liberation Sans,Arial,sans-serif" font-size="13.8" fill="#686868" lengthAdjust="spacingAndGlyphs">52000</text>
<text x="1790.8" y="625.1" textLength="38.6" font-family="Liberation Sans,Arial,sans-serif" font-size="13.8" fill="#686868" lengthAdjust="spacingAndGlyphs">54000</text>
<text x="1790.8" y="586.1" textLength="38.6" font-family="Liberation Sans,Arial,sans-serif" font-size="13.8" fill="#686868" lengthAdjust="spacingAndGlyphs">56000</text>
<text x="1790.8" y="546.1" textLength="38.6" font-family="Liberation Sans,Arial,sans-serif" font-size="13.8" fill="#686868" lengthAdjust="spacingAndGlyphs">58000</text>
<text x="1790.8" y="506.1" textLength="38.6" font-family="Liberation Sans,Arial,sans-serif" font-size="13.8" fill="#686868" lengthAdjust="spacingAndGlyphs">60000</text>
<text x="1790.8" y="466.1" textLength="38.6" font-family="Liberation Sans,Arial,sans-serif" font-size="13.8" fill="#686868" lengthAdjust="spacingAndGlyphs">62000</text>
<text x="1790.8" y="426.1" textLength="38.6" font-family="Liberation Sans,Arial,sans-serif" font-size="13.8" fill="#686868" lengthAdjust="spacingAndGlyphs">64000</text>
<text x="1790.8" y="387.1" textLength="38.6" font-family="Liberation Sans,Arial,sans-serif" font-size="13.8" fill="#686868" lengthAdjust="spacingAndGlyphs">66000</text>
<text x="1790.8" y="347.1" textLength="38.6" font-family="Liberation Sans,Arial,sans-serif" font-size="13.8" fill="#686868" lengthAdjust="spacingAndGlyphs">68000</text>
<text x="1790.8" y="307.1" textLength="38.6" font-family="Liberation Sans,Arial,sans-serif" font-size="13.8" fill="#686868" lengthAdjust="spacingAndGlyphs">70000</text>
<text x="1790.8" y="267.1" textLength="38.6" font-family="Liberation Sans,Arial,sans-serif" font-size="13.8" fill="#686868" lengthAdjust="spacingAndGlyphs">72000</text>
<text x="1790.8" y="227.1" textLength="38.6" font-family="Liberation Sans,Arial,sans-serif" font-size="13.8" fill="#686868" lengthAdjust="spacingAndGlyphs">74000</text>
<text x="1790.8" y="188.1" textLength="38.6" font-family="Liberation Sans,Arial,sans-serif" font-size="13.8" fill="#686868" lengthAdjust="spacingAndGlyphs">76000</text>
<text x="1790.8" y="148.1" textLength="38.6" font-family="Liberation Sans,Arial,sans-serif" font-size="13.8" fill="#686868" lengthAdjust="spacingAndGlyphs">78000</text>
<text x="1790.8" y="108.1" textLength="38.6" font-family="Liberation Sans,Arial,sans-serif" font-size="13.8" fill="#686868" lengthAdjust="spacingAndGlyphs">80000</text>
<text x="1790.8" y="68.1" textLength="38.6" font-family="Liberation Sans,Arial,sans-serif" font-size="13.8" fill="#686868" lengthAdjust="spacingAndGlyphs">82000</text>
<text x="1790.8" y="724.1" textLength="32.4" font-family="Liberation Sans,Arial,sans-serif" font-size="13.8" fill="#686868" lengthAdjust="spacingAndGlyphs">100K</text>
<text x="1790.8" y="766.1" textLength="24.6" font-family="Liberation Sans,Arial,sans-serif" font-size="13.8" fill="#686868" lengthAdjust="spacingAndGlyphs">50K</text>
<g clip-path="url(#ca)">
<text x="1790.8" y="816.7" textLength="49.6" font-family="Liberation Sans,Arial,sans-serif" font-size="13.8" fill="#686868" lengthAdjust="spacingAndGlyphs">75.0000</text>
<text x="1790.8" y="857.7" textLength="49.6" font-family="Liberation Sans,Arial,sans-serif" font-size="13.8" fill="#686868" lengthAdjust="spacingAndGlyphs">50.0000</text>
</g>
<path d="M1783 699.5h4M1783 659.5h4M1783 619.5h4M1783 580.5h4M1783 540.5h4M1783 500.5h4M1783 460.5h4M1783 420.5h4M1783 381.5h4M1783 341.5h4M1783 301.5h4M1783 261.5h4M1783 221.5h4M1783 182.5h4M1783 142.5h4M1783 102.5h4M1783 62.5h4M1783 718.5h4M1783 760.5h4M1783 812.5h4M1783 853.5h4" stroke="#666" stroke-width="1" fill="none"/>
<rect x="1782" y="150.3" width="53" height="20" fill="#0000ff"/>
<rect x="1783" y="159.8" width="4" height="1" fill="#fff" fill-opacity=".8"/>
<text x="1790.8" y="165.2" font-family="Liberation Sans,Arial,sans-serif" font-size="13.8" fill="#fff" stroke="#fff" stroke-width=".3" textLength="38.599999999999994" lengthAdjust="spacingAndGlyphs">77080</text>
<rect x="1782" y="390.3" width="53" height="20" fill="#008000"/>
<rect x="1783" y="399.8" width="4" height="1" fill="#fff" fill-opacity=".8"/>
<text x="1790.8" y="405.2" font-family="Liberation Sans,Arial,sans-serif" font-size="13.8" fill="#fff" stroke="#fff" stroke-width=".3" textLength="38.599999999999994" lengthAdjust="spacingAndGlyphs">65050</text>
<rect x="1782" y="410.3" width="53" height="20" fill="#ff00ff"/>
<rect x="1783" y="419.8" width="4" height="1" fill="#fff" fill-opacity=".8"/>
<text x="1790.8" y="425.2" font-family="Liberation Sans,Arial,sans-serif" font-size="13.8" fill="#fff" stroke="#fff" stroke-width=".3" textLength="38.599999999999994" lengthAdjust="spacingAndGlyphs">64079</text>
<rect x="1782" y="430.3" width="53" height="20" fill="#ff0000"/>
<rect x="1783" y="439.8" width="4" height="1" fill="#fff" fill-opacity=".8"/>
<text x="1790.8" y="445.2" font-family="Liberation Sans,Arial,sans-serif" font-size="13.8" fill="#fff" stroke="#fff" stroke-width=".3" textLength="38.599999999999994" lengthAdjust="spacingAndGlyphs">64079</text>
<rect x="1782" y="545.3" width="53" height="20" fill="#ff0000"/>
<rect x="1783" y="554.8" width="4" height="1" fill="#fff" fill-opacity=".8"/>
<text x="1790.8" y="560.2" font-family="Liberation Sans,Arial,sans-serif" font-size="13.8" fill="#fff" stroke="#fff" stroke-width=".3" textLength="38.599999999999994" lengthAdjust="spacingAndGlyphs">57293</text>
<rect x="1782" y="603" width="53" height="20" fill="#4e73df"/>
<rect x="1783" y="612.5" width="4" height="1" fill="#fff" fill-opacity=".8"/>
<text x="1790.8" y="617.9" font-family="Liberation Sans,Arial,sans-serif" font-size="13.8" fill="#fff" stroke="#fff" stroke-width=".3" textLength="38.599999999999994" lengthAdjust="spacingAndGlyphs">54390</text>
<rect x="1782" y="669" width="53" height="20" fill="#0000ff"/>
<rect x="1783" y="678.5" width="4" height="1" fill="#fff" fill-opacity=".8"/>
<text x="1790.8" y="683.9" font-family="Liberation Sans,Arial,sans-serif" font-size="13.8" fill="#fff" stroke="#fff" stroke-width=".3" textLength="38.599999999999994" lengthAdjust="spacingAndGlyphs">51077</text>
<rect x="1782" y="771.3" width="65" height="19.2" fill="#000"/>
<rect x="1783" y="780.4" width="4" height="1" fill="#fff" fill-opacity=".8"/>
<text x="1790.8" y="785.8" font-family="Liberation Sans,Arial,sans-serif" font-size="13.8" fill="#fff" stroke="#fff" stroke-width=".3" textLength="52.0" lengthAdjust="spacingAndGlyphs">26.357K</text>
<g clip-path="url(#cv)"></g>
<rect x="1782" y="792.2" width="58" height="15.8" fill="#ff6b63"/>
<svg x="1782" y="792.2" width="60" height="15.8" overflow="hidden"><text x="8.8" y="14.7" font-family="Liberation Sans,Arial,sans-serif" font-size="13.8" fill="#fff" stroke="#fff" stroke-width=".3" textLength="44.1" lengthAdjust="spacingAndGlyphs">1.056K</text><rect x="1" y="9.5" width="4" height="1" fill="#fff" fill-opacity=".8"/></svg>
<rect x="1782" y="878" width="64" height="20" fill="#800080"/>
<rect x="1783" y="887.5" width="4" height="1" fill="#fff" fill-opacity=".8"/>
<text x="1790.8" y="892.9" font-family="Liberation Sans,Arial,sans-serif" font-size="13.8" fill="#fff" stroke="#fff" stroke-width=".3" textLength="50.0" lengthAdjust="spacingAndGlyphs">28.5599</text>
<path d="M67.2 900v4.5M169.8 900v4.5M307.2 900v4.5M409.8 900v4.5M558.5 900v4.5M661 900v4.5M809.8 900v4.5M913.5 900v4.5M1062.2 900v4.5M1164.8 900v4.5M1289.8 900v4.5M1393.5 900v4.5M1542.2 900v4.5M1644.8 900v4.5M1769.8 900v4.5" stroke="#666" stroke-width="1.2" fill="none"/>
<text x="56.2" y="918.1" font-family="Liberation Sans,Arial,sans-serif" font-size="13.9" fill="#5e5e5e" textLength="21.6" lengthAdjust="spacingAndGlyphs">Oct</text>
<text x="794.3" y="918.1" font-family="Liberation Sans,Arial,sans-serif" font-weight="bold" font-size="13.9" fill="#444" textLength="30.6" lengthAdjust="spacingAndGlyphs">2022</text>
<text x="17.8" y="78" textLength="61.6" lengthAdjust="spacingAndGlyphs" font-family="DejaVu Sans Condensed,DejaVu Sans,sans-serif" font-size="13.3" fill="#000" stroke="#000" stroke-width=".2">BB (20, 2)</text>
<text x="17.8" y="96" textLength="103.6" lengthAdjust="spacingAndGlyphs" font-family="DejaVu Sans Condensed,DejaVu Sans,sans-serif" font-size="13.3" fill="#000" stroke="#000" stroke-width=".2">MA Cross (9, 26)</text>
<text x="17.8" y="114" textLength="104.6" lengthAdjust="spacingAndGlyphs" font-family="DejaVu Sans Condensed,DejaVu Sans,sans-serif" font-size="13.3" fill="#000" stroke="#000" stroke-width=".2">MA (20, close, 0)</text>
<text x="18" y="732.6" textLength="74.3" lengthAdjust="spacingAndGlyphs" font-family="DejaVu Sans Condensed,DejaVu Sans,sans-serif" font-size="13.3" fill="#000" stroke="#000" stroke-width=".2">Volume (20)</text>
<text x="18.3" y="828.6" textLength="50" lengthAdjust="spacingAndGlyphs" font-family="DejaVu Sans Condensed,DejaVu Sans,sans-serif" font-size="13.3" fill="#000" stroke="#000" stroke-width=".2">RSI (14)</text>
<text x="15.6" y="22.2" font-family="Liberation Sans,Arial,sans-serif" font-size="12.8" fill="#0a0a0a" stroke="#0a0a0a" stroke-width=".12" textLength="60.2" lengthAdjust="spacingAndGlyphs">Published</text>
<text x="79.8" y="22.2" font-family="Liberation Sans,Arial,sans-serif" font-size="12.8" fill="#0a0a0a" stroke="#0a0a0a" stroke-width=".12" textLength="15" lengthAdjust="spacingAndGlyphs">on</text>
<text x="98.8" y="22.2" font-family="Liberation Sans,Arial,sans-serif" font-size="12.8" fill="#0a0a0a" stroke="#0a0a0a" stroke-width=".12" textLength="86.8" lengthAdjust="spacingAndGlyphs">Investing.com,</text>
<text x="188.8" y="22.2" font-family="Liberation Sans,Arial,sans-serif" font-size="12.8" fill="#0a0a0a" stroke="#0a0a0a" stroke-width=".12" textLength="69.3" lengthAdjust="spacingAndGlyphs">6/Apr/2022</text>
<text x="261.8" y="22.2" font-family="Liberation Sans,Arial,sans-serif" font-size="12.8" fill="#0a0a0a" stroke="#0a0a0a" stroke-width=".12" textLength="5.8" lengthAdjust="spacingAndGlyphs">-</text>
<text x="272.7" y="22.2" font-family="Liberation Sans,Arial,sans-serif" font-size="12.8" fill="#0a0a0a" stroke="#0a0a0a" stroke-width=".12" textLength="44.8" lengthAdjust="spacingAndGlyphs">7:31:44</text>
<text x="321.8" y="22.2" font-family="Liberation Sans,Arial,sans-serif" font-size="12.8" fill="#0a0a0a" stroke="#0a0a0a" stroke-width=".12" textLength="35" lengthAdjust="spacingAndGlyphs">GMT,</text>
<text x="361.1" y="22.2" font-family="Liberation Sans,Arial,sans-serif" font-size="12.8" fill="#0a0a0a" stroke="#0a0a0a" stroke-width=".12" textLength="54.3" lengthAdjust="spacingAndGlyphs">Powered</text>
<text x="419.7" y="22.2" font-family="Liberation Sans,Arial,sans-serif" font-size="12.8" fill="#0a0a0a" stroke="#0a0a0a" stroke-width=".12" textLength="14.9" lengthAdjust="spacingAndGlyphs">by</text>
<text x="438.9" y="22.2" font-family="Liberation Sans,Arial,sans-serif" font-size="12.8" fill="#0a0a0a" stroke="#0a0a0a" stroke-width=".12" textLength="80.8" lengthAdjust="spacingAndGlyphs">TradingView.</text>
<text x="15.8" y="45.2" font-family="Liberation Sans,Arial,sans-serif" font-weight="bold" font-size="13.6" fill="#0a0a0a" stroke="#0a0a0a" stroke-width=".25" textLength="195" lengthAdjust="spacingAndGlyphs">תלאביב ,קבוצת דנאל, ישראל</text>
<text x="211" y="45.2" font-family="Liberation Sans,Arial,sans-serif" font-weight="bold" font-size="13.4" fill="#0a0a0a" stroke="#0a0a0a" stroke-width=".15" textLength="58.2" lengthAdjust="spacingAndGlyphs">:DANE, D</text>
<text x="24.5" y="691.3" font-family="Liberation Sans,Arial,sans-serif" font-weight="bold" font-size="26.3" fill="#0a0a0a" stroke="#0a0a0a" stroke-width=".55" textLength="111.4" lengthAdjust="spacingAndGlyphs">Investing</text>
<text x="137.4" y="691.3" font-family="Liberation Sans,Arial,sans-serif" font-size="17.4" fill="#2b2b2b" textLength="36.4" lengthAdjust="spacingAndGlyphs">.com</text>
<rect x="99.3" y="669.5" width="5.6" height="6.9" fill="#fff"/>
<path d="M98.9 675.5L100.3 672.2 104.7 670.1 103.4 675.5z" fill="#ff9c1a"/>
</svg>
</body></html>
